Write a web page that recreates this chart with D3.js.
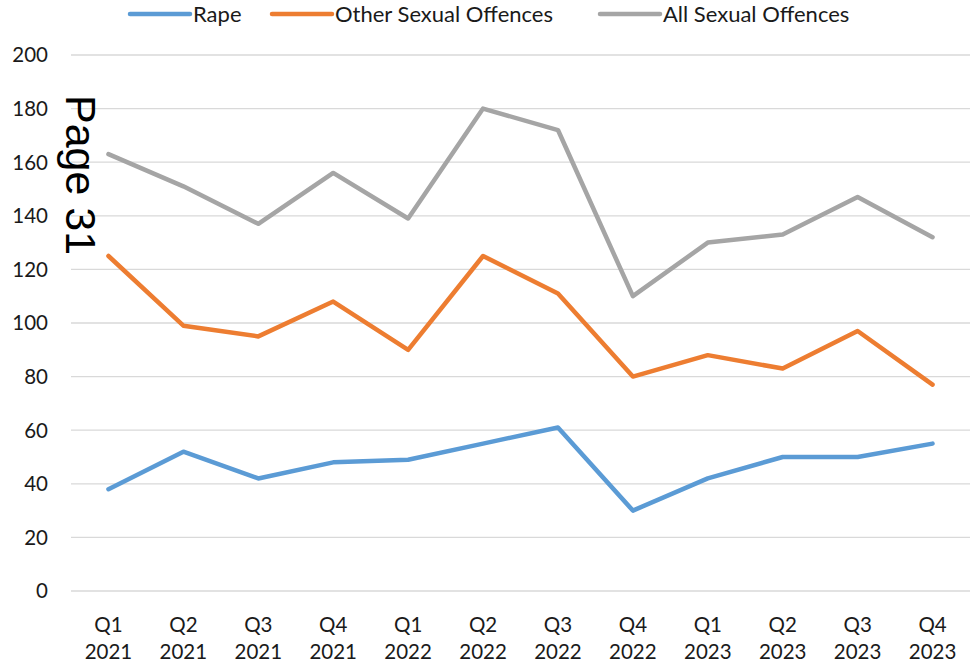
<!DOCTYPE html>
<html><head><meta charset="utf-8">
<script src="https://cdn.jsdelivr.net/npm/d3@7"></script>
<style>body{margin:0;background:#fff;} svg{display:block;}</style>
</head><body>
<svg id="c" width="971" height="671"></svg>
<script>
const quarters = ["Q1","Q2","Q3","Q4","Q1","Q2","Q3","Q4","Q1","Q2","Q3","Q4"];
const years = ["2021","2021","2021","2021","2022","2022","2022","2022","2023","2023","2023","2023"];
const rape = [38,52,42,48,49,55,61,30,42,50,50,55];
const otherSexual = [125,99,95,108,90,125,111,80,88,83,97,77];
const allSexual = [163,151,137,156,139,180,172,110,130,133,147,132];
const yTicks = [0,20,40,60,80,100,120,140,160,180,200];
const seriesNames = ["Rape","Other Sexual Offences","All Sexual Offences"];
const colors = ["#5B9BD5","#ED7D31","#A5A5A5"];

(function(){
const svg = d3.select("#c");
const font = "Lato, 'Liberation Sans', sans-serif";
const mLeft = 71, mRight = 970, mTop = 55, mBottom = 591;
const idx = d3.range(quarters.length);
const x = d3.scaleBand().domain(idx).range([mLeft, mRight]);
const y = d3.scaleLinear().domain([0,200]).range([mBottom, mTop]);

// gridlines
svg.append("g").selectAll("line").data(yTicks).join("line")
  .attr("x1", mLeft).attr("x2", mRight)
  .attr("y1", d => y(d)).attr("y2", d => y(d))
  .attr("stroke", "#D9D9D9").attr("stroke-width", 1.3);

// y axis labels
svg.append("g").selectAll("text").data(yTicks).join("text")
  .attr("x", 48).attr("y", d => y(d)).attr("dy", "0.36em")
  .attr("text-anchor", "end").attr("font-family", font).attr("font-size", 20.5)
  .attr("fill", "#1a1a1a").text(d => d);

// x axis labels
const xl = svg.append("g").selectAll("text").data(idx).join("text")
  .attr("text-anchor", "middle").attr("font-family", font).attr("font-size", 20.5).attr("fill", "#1a1a1a");
xl.append("tspan").attr("x", d => x(d) + x.bandwidth()/2).attr("y", 632).text(d => quarters[d]);
xl.append("tspan").attr("x", d => x(d) + x.bandwidth()/2).attr("y", 659).text(d => years[d]);

// lines
const data = [rape, otherSexual, allSexual];
const line = d3.line().x((d,i) => x(i) + x.bandwidth()/2).y(d => y(d));
svg.append("g").selectAll("path").data(data).join("path")
  .attr("d", d => line(d)).attr("fill", "none")
  .attr("stroke", (d,i) => colors[i]).attr("stroke-width", 4.5)
  .attr("stroke-linejoin", "round").attr("stroke-linecap", "round");

// Page 31 watermark
svg.append("text").attr("transform", "translate(66,95) rotate(90)")
  .attr("font-family", "'Liberation Sans', Arial, sans-serif").attr("font-size", 43)
  .attr("fill", "#000").text("Page 31");

// legend
const legX = [130, 272, 600];
const lg = svg.append("g").selectAll("g").data(seriesNames).join("g")
  .attr("transform", (d,i) => `translate(${legX[i]},14)`);
lg.append("line").attr("x1", 0).attr("x2", 60).attr("y1", 0).attr("y2", 0)
  .attr("stroke", (d,i) => colors[i]).attr("stroke-width", 4.5).attr("stroke-linecap", "round");
lg.append("text").attr("x", 63).attr("dy", "0.36em").attr("font-family", font).attr("font-size", 22)
  .attr("fill", "#1a1a1a").text(d => d);
})();
</script>
</body></html>
